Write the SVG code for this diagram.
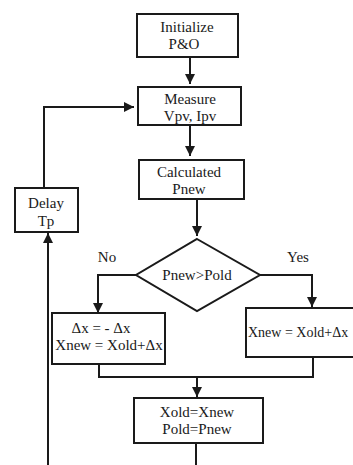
<svg xmlns="http://www.w3.org/2000/svg" width="353" height="465" viewBox="0 0 353 465">
<defs>
<marker id="ah" viewBox="0 0 10 10" refX="10" refY="5" markerWidth="5" markerHeight="5" orient="auto" markerUnits="strokeWidth">
<path d="M0,0 L10,5 L0,10 z" fill="#1a1a1a"/>
</marker>
<style>
.box{fill:#fff;stroke:#1a1a1a;stroke-width:2}
.ln{fill:none;stroke:#1a1a1a;stroke-width:2}
.arr{fill:none;stroke:#1a1a1a;stroke-width:2;marker-end:url(#ah)}
text{font-family:"Liberation Serif","Times New Roman",serif;font-size:15px;fill:#1a1a1a;text-anchor:middle}
</style>
</defs>
<rect width="353" height="465" fill="#fff"/>
<g id="connectors">
<path class="arr" d="M190,57 V84"/>
<path class="arr" d="M190,125 V156"/>
<path class="arr" d="M197,199 V236"/>
<path class="arr" d="M44,188 V107 H134"/>
<path class="arr" d="M48,465 V233"/>
<path class="arr" d="M136,275 H98 V313"/>
<path class="arr" d="M260,275 H312 V307"/>
<path class="ln" d="M99,364 V377 H313 V357"/>
<path class="arr" d="M197,377 V397"/>
<path class="ln" d="M196,443 V465"/>
</g>
<g id="init">
<rect class="box" x="137" y="14" width="101" height="43"/>
<text x="187" y="32">Initialize</text>
<text x="184" y="49">P&amp;O</text>
</g>
<g id="measure">
<rect class="box" x="138" y="87" width="103" height="38"/>
<text x="190" y="104">Measure</text>
<text x="190" y="121">Vpv, Ipv</text>
</g>
<g id="calc">
<rect class="box" x="139" y="160" width="105" height="39"/>
<text x="189" y="177">Calculated</text>
<text x="189" y="194">Pnew</text>
</g>
<g id="delay">
<rect class="box" x="15" y="188" width="63" height="44"/>
<text x="46" y="208">Delay</text>
<text x="46" y="226">Tp</text>
</g>
<g id="decision">
<polygon class="box" points="197,239 260,275 197,311 136,275"/>
<text x="197" y="280">Pnew&gt;Pold</text>
</g>
<text x="107" y="262">No</text>
<text x="298" y="262">Yes</text>
<g id="negate">
<rect class="box" x="52" y="313" width="113" height="51"/>
<text x="101" y="333">Δx = - Δx</text>
<text x="109" y="350">Xnew = Xold+Δx</text>
</g>
<g id="increment">
<rect class="box" x="246" y="308" width="112" height="49"/>
<text x="248" y="337" style="text-anchor:start;font-size:14px">Xnew = Xold+Δx</text>
</g>
<g id="update">
<rect class="box" x="134" y="398" width="129" height="45"/>
<text x="197" y="417">Xold=Xnew</text>
<text x="197" y="434">Pold=Pnew</text>
</g>
</svg>
